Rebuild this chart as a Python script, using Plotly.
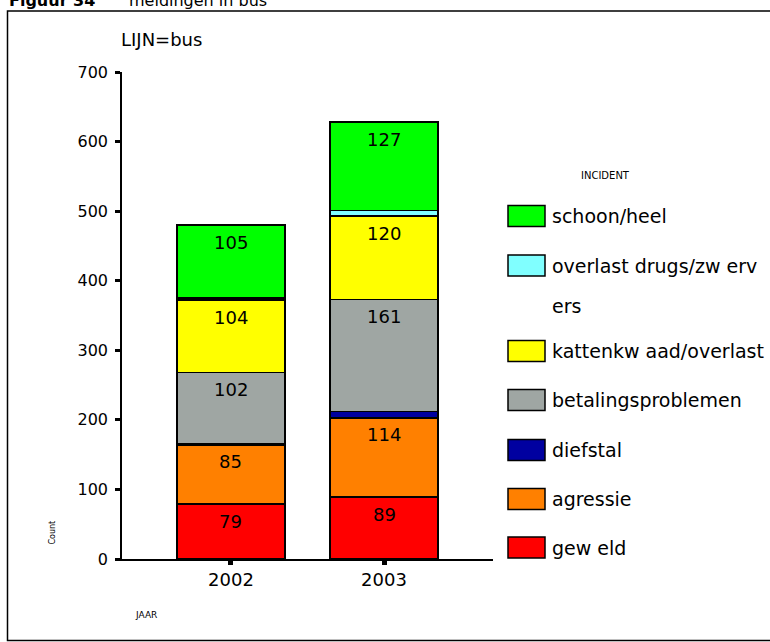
# Stacked bar chart: meldingen in bus per jaar, per incident type
import plotly.graph_objects as go

years = ["2002", "2003"]

# bottom to top
incidents = ["gew eld", "agressie", "diefstal", "betalingsproblemen",
             "kattenkw aad/overlast", "overlast drugs/zw erv<br>ers", "schoon/heel"]
geweld = [79, 89]
agressie = [85, 114]
diefstal = [2, 9]
betalingsproblemen = [102, 161]
kattenkwaad = [104, 120]
drugs = [3, 8]
schoon = [105, 127]
series = [geweld, agressie, diefstal, betalingsproblemen, kattenkwaad, drugs, schoon]
labelled = [True, True, False, True, True, False, True]

colors = ["#FF0000", "#FF8000", "#0000A0", "#9FA6A3", "#FFFF00", "#80FFFF", "#00FF00"]

FONT = "DejaVu Sans, Arial, sans-serif"

fig = go.Figure()

for name, vals, col in zip(incidents, series, colors):
    fig.add_trace(go.Bar(
        x=years, y=vals, name=name,
        marker=dict(color=col, line=dict(color="black", width=1.5)),
        width=0.706, showlegend=False, hoverinfo="skip",
    ))

# value labels near the top of each segment
cum = [0, 0]
for vals, lab in zip(series, labelled):
    for i in range(len(years)):
        cum[i] += vals[i]
        if lab:
            fig.add_annotation(x=i, y=cum[i], text=str(vals[i]), showarrow=False,
                               yshift=-17, font=dict(size=18, color="black", family=FONT))

# plot area: x 122..493 px, y 72..559 px
def px_x(p):
    return (p - 122) / 371.0

def px_y(p):
    return (559 - p) / 487.0

# custom legend (top to bottom)
legend_rows = [216, 265.5, 351, 400, 450, 499, 547.5]
for name, col, row in zip(incidents[::-1], colors[::-1], legend_rows):
    fig.add_shape(type="rect", xref="paper", yref="paper",
                  x0=px_x(508), x1=px_x(545), y0=px_y(row + 10.5), y1=px_y(row - 10.5),
                  fillcolor=col, line=dict(color="black", width=1.5))
    txt = name.split("<br>")
    fig.add_annotation(xref="paper", yref="paper", x=px_x(550), y=px_y(row),
                       text=txt[0], showarrow=False, xanchor="left", yanchor="middle",
                       font=dict(size=19, color="black", family=FONT))
    if len(txt) > 1:
        fig.add_annotation(xref="paper", yref="paper", x=px_x(550), y=px_y(row + 40),
                           text=txt[1], showarrow=False, xanchor="left", yanchor="middle",
                           font=dict(size=19, color="black", family=FONT))

fig.add_annotation(xref="paper", yref="paper", x=px_x(632), y=px_y(168), text="INCIDENT",
                   showarrow=False, font=dict(size=10, color="black", family=FONT))

# frame
fig.add_shape(type="rect", xref="paper", yref="paper",
              x0=px_x(7.5), x1=px_x(780), y0=px_y(640.5), y1=px_y(11),
              line=dict(color="black", width=1.5), fillcolor="rgba(0,0,0,0)")

# texts
fig.add_annotation(xref="paper", yref="paper", x=px_x(7), y=px_y(0.5),
                   text="<b>Figuur 34</b>", showarrow=False,
                   xanchor="left", yanchor="middle",
                   font=dict(size=16, color="black", family=FONT))
fig.add_annotation(xref="paper", yref="paper", x=px_x(127), y=px_y(0.5),
                   text="meldingen in bus", showarrow=False,
                   xanchor="left", yanchor="middle",
                   font=dict(size=16, color="black", family=FONT))
fig.add_annotation(xref="paper", yref="paper", x=px_x(119), y=px_y(40), text="LIJN=bus",
                   showarrow=False, xanchor="left", yanchor="middle",
                   font=dict(size=18, color="black", family=FONT))
fig.add_annotation(xref="paper", yref="paper", x=px_x(45), y=px_y(547), text="Count",
                   showarrow=False, textangle=-90,
                   font=dict(size=8, color="black", family=FONT))
fig.add_annotation(xref="paper", yref="paper", x=px_x(133), y=px_y(622), text="JAAR",
                   showarrow=False, font=dict(size=9, color="black", family=FONT))

fig.update_layout(
    barmode="stack",
    width=770, height=642,
    margin=dict(l=122, r=277, t=72, b=83),
    plot_bgcolor="white", paper_bgcolor="white",
    font=dict(family=FONT, color="black"),
    xaxis=dict(type="category", range=[-0.712, 1.712], showline=True, linecolor="black",
               linewidth=1.5, ticks="outside", ticklen=4, tickwidth=5, tickcolor="black",
               showgrid=False, zeroline=False, tickfont=dict(size=18)),
    yaxis=dict(range=[0, 700], dtick=100, showline=True, linecolor="black", linewidth=1.5,
               ticks="outside", ticklen=5, tickwidth=3, tickcolor="black",
               showgrid=False, zeroline=False, tickfont=dict(size=16),
               ticklabelstandoff=4),
    showlegend=False,
)

# drop the browser's default 8px body margin so the figure sits at the page corner
fig.write_html("out.html", config={"displayModeBar": False},
               post_script="document.body.style.margin='0';")
